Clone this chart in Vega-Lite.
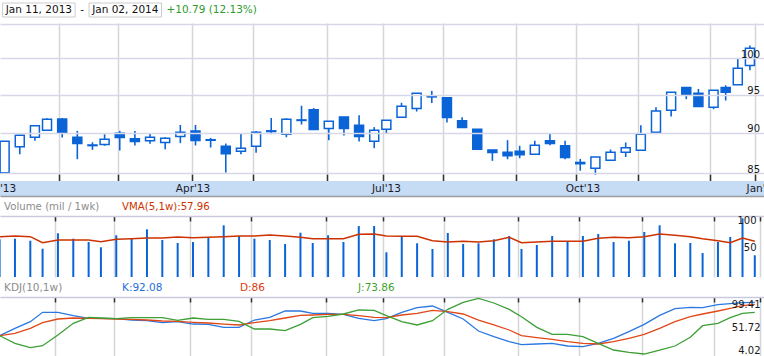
{
  "$schema": "https://vega.github.io/schema/vega-lite/v6.json",
  "padding": 0,
  "bounds": "flush",
  "spacing": 0,
  "background": "#ffffff",
  "config": {
    "view": {"stroke": null},
    "font": "DejaVu Sans",
    "axis": {"labelFont": "DejaVu Sans", "labelColor": "#1a1a1a", "labelFontSize": 10, "title": null, "labelOverlap": false}
  },
  "datasets": {
    "weeks": [
      {"date": "2013-01-04", "session": 3, "open": 85.07, "high": 88.93, "low": 85.07, "close": 88.93, "volume": 61.7, "vma": 66.5, "k": 33.7, "d": 33.7, "j": 33.7},
      {"date": "2013-01-11", "session": 8, "open": 88.25, "high": 89.75, "low": 87.3, "close": 89.7, "volume": 62.8, "vma": 67.7, "k": 49.0, "d": 38.6, "j": 17.8},
      {"date": "2013-01-18", "session": 13, "open": 89.44, "high": 91.0, "low": 89.0, "close": 90.9, "volume": 59.1, "vma": 66.5, "k": 62.8, "d": 49.0, "j": 8.9},
      {"date": "2013-01-25", "session": 17, "open": 90.32, "high": 91.85, "low": 90.32, "close": 91.74, "volume": 44.5, "vma": 55.5, "k": 82.1, "d": 60.7, "j": 13.0},
      {"date": "2013-02-01", "session": 22, "open": 91.77, "high": 91.9, "low": 89.4, "close": 90.03, "volume": 72.6, "vma": 60.4, "k": 82.1, "d": 68.3, "j": 35.1},
      {"date": "2013-02-08", "session": 27, "open": 89.44, "high": 90.24, "low": 86.7, "close": 88.64, "volume": 62.8, "vma": 60.4, "k": 75.2, "d": 70.4, "j": 59.3},
      {"date": "2013-02-15", "session": 32, "open": 88.38, "high": 88.8, "low": 87.85, "close": 88.46, "volume": 56.8, "vma": 60.4, "k": 69.7, "d": 69.7, "j": 71.8},
      {"date": "2013-02-22", "session": 36, "open": 88.52, "high": 89.82, "low": 88.36, "close": 89.19, "volume": 47.1, "vma": 57.4, "k": 69.7, "d": 69.0, "j": 70.4},
      {"date": "2013-03-01", "session": 41, "open": 89.95, "high": 90.24, "low": 87.77, "close": 89.39, "volume": 69.0, "vma": 61.6, "k": 69.0, "d": 68.3, "j": 69.0},
      {"date": "2013-03-08", "session": 46, "open": 89.23, "high": 90.24, "low": 88.4, "close": 88.89, "volume": 62.8, "vma": 62.8, "k": 66.2, "d": 67.6, "j": 71.1},
      {"date": "2013-03-15", "session": 51, "open": 89.0, "high": 89.95, "low": 88.6, "close": 89.44, "volume": 79.9, "vma": 64.1, "k": 64.8, "d": 66.2, "j": 71.1},
      {"date": "2013-03-22", "session": 56, "open": 88.77, "high": 89.44, "low": 87.94, "close": 89.32, "volume": 60.4, "vma": 64.1, "k": 60.7, "d": 64.2, "j": 71.1},
      {"date": "2013-03-28", "session": 61, "open": 89.52, "high": 91.0, "low": 88.69, "close": 90.08, "volume": 54.9, "vma": 65.9, "k": 62.8, "d": 63.5, "j": 65.5},
      {"date": "2013-04-05", "session": 66, "open": 90.24, "high": 91.0, "low": 88.4, "close": 89.01, "volume": 56.8, "vma": 64.7, "k": 57.9, "d": 61.4, "j": 70.4},
      {"date": "2013-04-12", "session": 71, "open": 89.05, "high": 89.35, "low": 88.14, "close": 89.12, "volume": 64.1, "vma": 65.3, "k": 57.2, "d": 60.0, "j": 67.6},
      {"date": "2013-04-19", "session": 76, "open": 88.31, "high": 88.64, "low": 85.07, "close": 87.38, "volume": 87.2, "vma": 66.5, "k": 51.0, "d": 57.9, "j": 67.6},
      {"date": "2013-04-26", "session": 81, "open": 87.68, "high": 89.86, "low": 87.3, "close": 88.06, "volume": 67.7, "vma": 67.7, "k": 51.0, "d": 55.9, "j": 63.5},
      {"date": "2013-05-03", "session": 86, "open": 88.31, "high": 90.24, "low": 87.5, "close": 90.08, "volume": 62.8, "vma": 67.7, "k": 66.2, "d": 60.7, "j": 47.6},
      {"date": "2013-05-10", "session": 91, "open": 90.15, "high": 91.9, "low": 89.82, "close": 90.25, "volume": 60.4, "vma": 69.5, "k": 71.8, "d": 64.8, "j": 47.6},
      {"date": "2013-05-17", "session": 96, "open": 89.82, "high": 91.87, "low": 89.44, "close": 91.74, "volume": 53.1, "vma": 67.7, "k": 84.9, "d": 70.4, "j": 44.1},
      {"date": "2013-05-24", "session": 101, "open": 91.58, "high": 93.5, "low": 91.05, "close": 91.65, "volume": 73.7, "vma": 65.3, "k": 84.9, "d": 75.9, "j": 57.2},
      {"date": "2013-05-31", "session": 105, "open": 92.96, "high": 93.2, "low": 90.41, "close": 90.41, "volume": 54.9, "vma": 62.8, "k": 80.1, "d": 76.6, "j": 71.1},
      {"date": "2013-06-07", "session": 110, "open": 90.53, "high": 91.48, "low": 89.06, "close": 91.48, "volume": 69.0, "vma": 62.8, "k": 80.1, "d": 78.0, "j": 73.8},
      {"date": "2013-06-14", "session": 115, "open": 92.04, "high": 92.04, "low": 89.65, "close": 90.53, "volume": 56.8, "vma": 62.8, "k": 78.0, "d": 78.0, "j": 78.7},
      {"date": "2013-06-21", "session": 120, "open": 90.97, "high": 92.26, "low": 88.89, "close": 89.52, "volume": 85.9, "vma": 70.7, "k": 69.7, "d": 75.2, "j": 87.0},
      {"date": "2013-06-28", "session": 125, "open": 88.94, "high": 90.72, "low": 88.06, "close": 90.32, "volume": 85.9, "vma": 71.4, "k": 64.8, "d": 71.8, "j": 86.3},
      {"date": "2013-07-05", "session": 129, "open": 90.46, "high": 91.61, "low": 89.95, "close": 91.61, "volume": 38.0, "vma": 67.7, "k": 69.0, "d": 71.1, "j": 75.2},
      {"date": "2013-07-12", "session": 134, "open": 92.0, "high": 93.9, "low": 92.0, "close": 93.45, "volume": 66.4, "vma": 67.1, "k": 82.1, "d": 76.6, "j": 62.8},
      {"date": "2013-07-19", "session": 139, "open": 93.13, "high": 95.17, "low": 92.74, "close": 95.17, "volume": 54.4, "vma": 67.1, "k": 91.8, "d": 80.1, "j": 55.9},
      {"date": "2013-07-26", "session": 144, "open": 94.68, "high": 95.48, "low": 93.86, "close": 94.76, "volume": 44.0, "vma": 59.2, "k": 95.3, "d": 86.3, "j": 64.8},
      {"date": "2013-08-02", "session": 149, "open": 94.55, "high": 94.55, "low": 91.31, "close": 91.95, "volume": 73.2, "vma": 56.8, "k": 82.1, "d": 83.5, "j": 88.4},
      {"date": "2013-08-09", "session": 154, "open": 91.53, "high": 92.0, "low": 90.66, "close": 90.66, "volume": 53.1, "vma": 58.0, "k": 68.3, "d": 78.7, "j": 102.9},
      {"date": "2013-08-16", "session": 159, "open": 90.46, "high": 90.46, "low": 87.94, "close": 87.94, "volume": 54.4, "vma": 56.8, "k": 43.4, "d": 66.2, "j": 111.2},
      {"date": "2013-08-23", "session": 164, "open": 87.85, "high": 87.85, "low": 86.5, "close": 87.51, "volume": 61.7, "vma": 59.2, "k": 31.7, "d": 55.9, "j": 101.5},
      {"date": "2013-08-30", "session": 169, "open": 87.55, "high": 89.06, "low": 86.7, "close": 87.13, "volume": 67.7, "vma": 65.3, "k": 21.3, "d": 45.5, "j": 88.4},
      {"date": "2013-09-06", "session": 173, "open": 87.68, "high": 88.36, "low": 86.82, "close": 87.25, "volume": 44.0, "vma": 55.5, "k": 15.1, "d": 33.7, "j": 73.1},
      {"date": "2013-09-13", "session": 178, "open": 87.3, "high": 88.98, "low": 87.3, "close": 88.43, "volume": 51.3, "vma": 56.8, "k": 16.5, "d": 29.6, "j": 51.0},
      {"date": "2013-09-20", "session": 183, "open": 88.98, "high": 89.86, "low": 88.43, "close": 88.64, "volume": 67.7, "vma": 58.0, "k": 17.8, "d": 26.1, "j": 36.5},
      {"date": "2013-09-27", "session": 188, "open": 88.36, "high": 88.98, "low": 86.7, "close": 86.92, "volume": 56.8, "vma": 58.0, "k": 12.3, "d": 21.3, "j": 36.5},
      {"date": "2013-10-04", "session": 193, "open": 86.15, "high": 86.73, "low": 85.3, "close": 86.3, "volume": 67.7, "vma": 58.0, "k": 10.9, "d": 17.8, "j": 31.7},
      {"date": "2013-10-11", "session": 198, "open": 85.6, "high": 86.97, "low": 84.83, "close": 86.97, "volume": 71.4, "vma": 63.4, "k": 17.8, "d": 16.5, "j": 17.8},
      {"date": "2013-10-18", "session": 203, "open": 86.57, "high": 87.89, "low": 86.57, "close": 87.55, "volume": 56.8, "vma": 65.3, "k": 28.2, "d": 21.3, "j": 4.0},
      {"date": "2013-10-25", "session": 208, "open": 87.55, "high": 88.77, "low": 86.97, "close": 88.1, "volume": 59.1, "vma": 64.7, "k": 42.0, "d": 28.2, "j": -0.8},
      {"date": "2013-11-01", "session": 213, "open": 87.81, "high": 90.97, "low": 87.81, "close": 89.82, "volume": 75.0, "vma": 66.5, "k": 57.2, "d": 36.5, "j": -4.3},
      {"date": "2013-11-08", "session": 218, "open": 90.08, "high": 93.32, "low": 90.08, "close": 92.8, "volume": 87.2, "vma": 71.4, "k": 75.9, "d": 49.0, "j": 4.0},
      {"date": "2013-11-15", "session": 223, "open": 92.92, "high": 95.31, "low": 92.08, "close": 95.31, "volume": 54.4, "vma": 68.9, "k": 89.7, "d": 62.8, "j": 12.3},
      {"date": "2013-11-22", "session": 228, "open": 95.93, "high": 95.93, "low": 94.37, "close": 95.04, "volume": 54.9, "vma": 66.5, "k": 92.5, "d": 73.1, "j": 30.3},
      {"date": "2013-11-29", "session": 232, "open": 95.17, "high": 95.75, "low": 93.4, "close": 93.4, "volume": 36.7, "vma": 62.8, "k": 91.8, "d": 78.7, "j": 54.5},
      {"date": "2013-12-06", "session": 237, "open": 93.32, "high": 95.58, "low": 93.05, "close": 95.58, "volume": 56.8, "vma": 59.2, "k": 98.0, "d": 84.9, "j": 59.3},
      {"date": "2013-12-13", "session": 241, "open": 95.93, "high": 96.25, "low": 94.19, "close": 95.31, "volume": 65.9, "vma": 55.5, "k": 100.1, "d": 90.4, "j": 71.1},
      {"date": "2013-12-20", "session": 245, "open": 96.33, "high": 99.9, "low": 96.33, "close": 98.6, "volume": 100.0, "vma": 64.1, "k": 102.2, "d": 96.0, "j": 80.1},
      {"date": "2013-12-27", "session": 249, "open": 98.96, "high": 101.8, "low": 98.32, "close": 101.42, "volume": 32.5, "vma": 57.96, "k": 102.9, "d": 98.7, "j": 82.1}
    ],
    "quarters": [
      {"label": "Jan'13", "session": 3.127},
      {"label": "Apr'13", "session": 66},
      {"label": "Jul'13", "session": 129},
      {"label": "Oct'13", "session": 193},
      {"label": "Jan'14", "session": 251.6}
    ]
  },
  "vconcat": [
    {"width": 764, "height": 3, "data": {"values": []}, "mark": "point"},
    {
      "width": {"step": 43.2},
      "height": 14,
      "data": {"values": [
        {"part": "start", "t": "Jan 11, 2013"},
        {"part": "sep", "t": "-"},
        {"part": "end", "t": "Jan 02, 2014"},
        {"part": "change", "t": "+10.79 (12.13%)"}
      ]},
      "encoding": {
        "x": {"field": "part", "type": "nominal", "sort": null, "scale": {"domain": ["start", "sep", "end", "gap", "change"], "paddingInner": 0, "paddingOuter": 0.4}, "axis": null}
      },
      "layer": [
        {
          "transform": [{"filter": "datum.part == 'start' || datum.part == 'end'"}],
          "mark": {"type": "bar", "width": 72.5, "fill": "#ffffff", "stroke": "#cccccc", "strokeWidth": 1}
        },
        {
          "mark": {"type": "text", "fontSize": 10.5},
          "encoding": {
            "text": {"field": "t", "type": "nominal"},
            "color": {"condition": {"test": "datum.part == 'change'", "value": "#2f9a2f"}, "value": "#111111"}
          }
        }
      ]
    },
    {"width": 764, "height": 6, "data": {"values": []}, "mark": "point"},
    {
      "width": 764,
      "height": 158,
      "data": {"name": "weeks"},
      "encoding": {
        "x": {"field": "session", "type": "quantitative", "scale": {"domain": [3.127, 252], "nice": false, "zero": false},
          "axis": {"orient": "bottom", "values": [21, 40.3, 65, 84.9, 109.3, 127.9, 147.8, 171.9, 191.7, 212.2, 235.7, 250.7], "tickCount": 30, "grid": true, "gridColor": "#d6d6d6", "gridWidth": 1.5, "ticks": true, "tickSize": -7, "tickColor": "#333333", "tickWidth": 1.5, "labels": false, "domain": false, "title": null}}
      },
      "layer": [
        {
          "mark": {"type": "rule", "color": "#0a64d8", "strokeWidth": 1.6, "clip": true},
          "encoding": {
            "y": {"field": "low", "type": "quantitative", "scale": {"type": "log", "domain": [84.07, 105.1], "nice": false, "zero": false},
              "axis": {"orient": "right", "values": [85, 90, 95, 100, 105], "tickCount": 10, "format": "d", "grid": true, "gridColor": "#d7d7ea", "gridWidth": 1.5, "ticks": false, "domain": false, "labelAlign": "right", "labelPadding": -4.5, "labelBaseline": "alphabetic", "labelOffset": -1, "labelOverlap": false, "labelExpr": "datum.value == 105 ? '' : datum.label", "title": null, "zindex": 1}},
            "y2": {"field": "high"}
          }
        },
        {
          "mark": {"type": "bar", "width": 9, "stroke": "#0a64d8", "strokeWidth": 1.5, "clip": true},
          "encoding": {
            "y": {"field": "open", "type": "quantitative"},
            "y2": {"field": "close"},
            "fill": {"condition": {"test": "datum.close < datum.open", "value": "#0a64d8"}, "value": "#ffffff"}
          }
        }
      ]
    },
    {
      "width": 764,
      "height": 15,
      "view": {"fill": "#c6dbf4", "stroke": null},
      "data": {"name": "quarters"},
      "mark": {"type": "text", "clip": true, "fontSize": 10.5, "color": "#1a1a2a"},
      "encoding": {
        "x": {"field": "session", "type": "quantitative", "scale": {"domain": [3.127, 252], "nice": false, "zero": false},
          "axis": {"orient": "bottom", "labels": false, "ticks": false, "grid": false, "domain": true, "domainColor": "#9c9c9c", "domainWidth": 1.5, "title": null}},
        "text": {"field": "label", "type": "nominal"}
      }
    },
    {
      "width": {"step": 118},
      "height": 20,
      "data": {"values": [
        {"part": "volume", "t": "Volume (mil / 1wk)"},
        {"part": "vma", "t": "VMA(5,1w):57.96"}
      ]},
      "mark": {"type": "text", "align": "left", "dx": 4, "dy": 1, "fontSize": 10.2},
      "encoding": {
        "x": {"field": "part", "type": "nominal", "sort": null, "scale": {"type": "point", "padding": 0}, "axis": null},
        "text": {"field": "t", "type": "nominal"},
        "color": {"condition": {"test": "datum.part == 'vma'", "value": "#cc3300"}, "value": "#8c8c8c"}
      }
    },
    {
      "width": 764,
      "height": 61,
      "data": {"name": "weeks"},
      "encoding": {
        "x": {"field": "session", "type": "quantitative", "scale": {"domain": [3.127, 252], "nice": false, "zero": false},
          "axis": {"orient": "top", "values": [21, 40.3, 65, 84.9, 109.3, 127.9, 147.8, 171.9, 191.7, 212.2, 235.7, 250.7], "tickCount": 30, "grid": true, "gridColor": "#d6d6d6", "gridWidth": 1.5, "ticks": true, "tickSize": -5, "tickColor": "#333333", "tickWidth": 1.5, "labels": false, "domain": true, "domainColor": "#c9c9de", "domainWidth": 1.5, "title": null}}
      },
      "layer": [
        {
          "mark": {"type": "rule", "color": "#0a64d8", "strokeWidth": 2, "clip": true},
          "encoding": {
            "y": {"field": "volume", "type": "quantitative", "scale": {"domain": [-7.1, 104.2], "nice": false, "zero": false},
              "axis": {"orient": "right", "values": [50, 100], "tickCount": 10, "format": "d", "grid": false, "ticks": false, "domain": false, "labelAlign": "right", "labelPadding": -8, "labelOffset": 2, "labelOverlap": false, "title": null, "zindex": 1}},
            "y2": {"datum": -7.1}
          }
        },
        {
          "mark": {"type": "line", "color": "#cc3300", "strokeWidth": 1.5, "clip": true},
          "encoding": {"y": {"field": "vma", "type": "quantitative"}}
        }
      ]
    },
    {
      "width": {"step": 118},
      "height": 20,
      "data": {"values": [
        {"part": "kdj", "t": "KDJ(10,1w)"},
        {"part": "k", "t": "K:92.08"},
        {"part": "d", "t": "D:86"},
        {"part": "j", "t": "J:73.86"}
      ]},
      "mark": {"type": "text", "align": "left", "dx": 4, "dy": 1, "fontSize": 10.5},
      "encoding": {
        "x": {"field": "part", "type": "nominal", "sort": null, "scale": {"type": "point", "padding": 0}, "axis": null},
        "text": {"field": "t", "type": "nominal"},
        "color": {"condition": [
          {"test": "datum.part == 'k'", "value": "#1f6fd8"},
          {"test": "datum.part == 'd'", "value": "#dd3a11"},
          {"test": "datum.part == 'j'", "value": "#3f9f2f"}
        ], "value": "#8c8c8c"}
      }
    },
    {
      "width": 764,
      "height": 59,
      "data": {"name": "weeks"},
      "encoding": {
        "x": {"field": "session", "type": "quantitative", "scale": {"domain": [3.127, 252], "nice": false, "zero": false},
          "axis": {"orient": "top", "values": [21, 40.3, 65, 84.9, 109.3, 127.9, 147.8, 171.9, 191.7, 212.2, 235.7, 250.7], "tickCount": 30, "grid": true, "gridColor": "#d6d6d6", "gridWidth": 1.5, "ticks": true, "tickSize": -5, "tickColor": "#333333", "tickWidth": 1.5, "labels": false, "domain": true, "domainColor": "#c9c9de", "domainWidth": 1.5, "title": null}}
      },
      "layer": [
        {
          "mark": {"type": "line", "color": "#2a78e0", "strokeWidth": 1.3, "clip": true},
          "encoding": {
            "y": {"field": "k", "type": "quantitative", "scale": {"domain": [-8.42, 113.95], "nice": false, "zero": false},
              "axis": {"orient": "right", "values": [4.02, 51.72, 99.41], "tickCount": 10, "format": ".2f", "grid": false, "ticks": false, "domain": false, "labelAlign": "right", "labelPadding": -4, "labelOverlap": false, "title": null, "zindex": 1}}
          }
        },
        {
          "mark": {"type": "line", "color": "#e04818", "strokeWidth": 1.3, "clip": true},
          "encoding": {"y": {"field": "d", "type": "quantitative"}}
        },
        {
          "mark": {"type": "line", "color": "#3d9f35", "strokeWidth": 1.3, "clip": true},
          "encoding": {"y": {"field": "j", "type": "quantitative"}}
        }
      ]
    }
  ]
}
